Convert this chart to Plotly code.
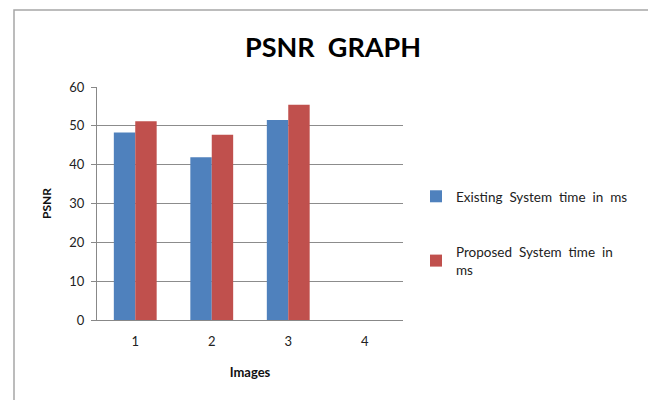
import plotly.graph_objects as go

categories = ["1", "2", "3", "4"]
existing = [48.3, 41.9, 51.5, None]
proposed = [51.2, 47.7, 55.4, None]
y_ticks = [0, 10, 20, 30, 40, 50, 60]

FONT = "Lato, 'Liberation Sans', sans-serif"
OFF = 8  # page body margin of the browser

fig = go.Figure()
fig.add_trace(go.Bar(x=categories, y=existing, name="Existing  System  time  in  ms",
                     legendgroup="a",
                     marker=dict(color="#4F81BD", line=dict(width=0))))
fig.add_trace(go.Bar(x=categories, y=proposed, name="Proposed  System  time  in<br>ms",
                     legendgroup="b",
                     marker=dict(color="#C0504D", line=dict(width=0))))

L, R, T, B = 97 - OFF, 403 - OFF, 87 - OFF, 320 - OFF
pw, ph = R - L, B - T

def px_x(p):
    return (p - OFF - L) / pw

def px_y(p):
    return (B - (p - OFF)) / ph

fig.update_layout(
    width=656, height=400,
    margin=dict(l=L, r=656 - R, t=T, b=400 - B, autoexpand=False),
    paper_bgcolor="white", plot_bgcolor="white",
    barmode="group", bargap=0.44, bargroupgap=0,
    font=dict(family=FONT, size=13, color="#222"),
    title=dict(text="<b>PSNR  GRAPH</b>", x=(333 - OFF) / 656, xanchor="center",
               y=1 - (48 - OFF) / 400, yanchor="middle",
               font=dict(family=FONT, size=27, color="#000")),
    xaxis=dict(title=dict(text="<b>Images</b>", font=dict(size=13, color="#111"), standoff=20),
               showline=True, linecolor="#888", linewidth=1,
               ticks="", tickfont=dict(size=13, color="#222"), showgrid=False,
               ticklabelstandoff=9),
    yaxis=dict(title=dict(text="<b>PSNR</b>", font=dict(size=12, color="#111"), standoff=15),
               range=[0, 60], tickvals=y_ticks, showgrid=True, gridcolor="#8c8c8c", gridwidth=1,
               showline=True, linecolor="#888", linewidth=1, ticks="outside", ticklen=5,
               tickcolor="#888", tickfont=dict(size=13, color="#222"), zeroline=False,
               ticklabelstandoff=4),
    legend=dict(x=px_x(416), y=px_y(181), xanchor="left", yanchor="top",
                font=dict(size=13.5, color="#222"), tracegroupgap=35,
                itemsizing="constant", bgcolor="rgba(0,0,0,0)"),
    shapes=[dict(type="rect", xref="paper", yref="paper",
                 x0=px_x(14), x1=px_x(651), y0=px_y(420), y1=px_y(10),
                 line=dict(color="#a6a6a6", width=1.5), fillcolor="rgba(0,0,0,0)",
                 layer="below")],
)

fig.write_html("out.html")
